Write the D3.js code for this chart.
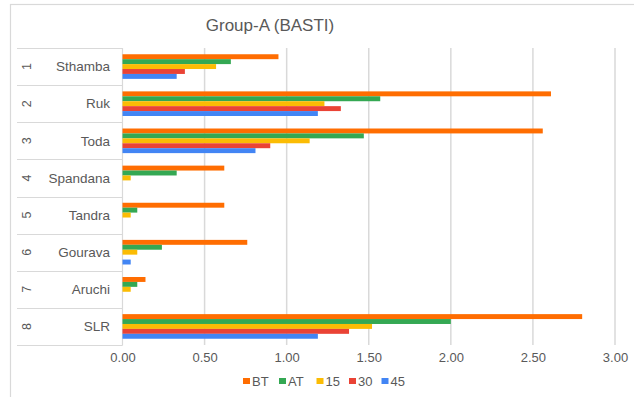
<!DOCTYPE html>
<html>
<head>
<meta charset="utf-8">
<script src="https://cdn.jsdelivr.net/npm/d3@7"></script>
<style>
  html, body { margin: 0; padding: 0; background: #fff; }
  svg { display: block; font-family: "Liberation Sans", Arial, sans-serif; }
</style>
</head>
<body>
<svg id="chart" width="634" height="397"></svg>
<script>
// Plant groups and their index numbers on the category axis
const categories = ["Sthamba", "Ruk", "Toda", "Spandana", "Tandra", "Gourava", "Aruchi", "SLR"];
const categoryNumbers = ["1", "2", "3", "4", "5", "6", "7", "8"];

// Series (measurement stages)
const seriesNames = ["BT", "AT", "15", "30", "45"];
const seriesColors = ["#ff6d01", "#34a853", "#fbbc04", "#ea4335", "#4285f4"];

// Values per series, one per category
const btValues = [0.95, 2.61, 2.56, 0.62, 0.62, 0.76, 0.14, 2.80];
const atValues = [0.66, 1.57, 1.47, 0.33, 0.09, 0.24, 0.09, 2.00];
const v15Values = [0.57, 1.23, 1.14, 0.05, 0.05, 0.09, 0.05, 1.52];
const v30Values = [0.38, 1.33, 0.90, 0, 0, 0, 0, 1.38];
const v45Values = [0.33, 1.19, 0.81, 0, 0, 0.05, 0, 1.19];

const xTicks = [0, 0.5, 1.0, 1.5, 2.0, 2.5, 3.0];
const chartTitle = "Group-A (BASTI)";

const seriesValues = [btValues, atValues, v15Values, v30Values, v45Values];

const svg = d3.select("#chart");
const W = 634, H = 397;
const plot = { left: 122.5, right: 615, top: 48, bottom: 345 };
const textColor = "#595959";
const lineColor = "#d9d9d9";

// Outer chart frame
svg.append("rect")
  .attr("x", 10.5).attr("y", 4.5)
  .attr("width", 700).attr("height", 420)
  .attr("fill", "none").attr("stroke", lineColor).attr("stroke-width", 1.2);

// Title
svg.append("text")
  .attr("x", 270).attr("y", 31)
  .attr("text-anchor", "middle")
  .attr("font-size", 17)
  .attr("fill", textColor)
  .text(chartTitle);

const x = d3.scaleLinear().domain([0, 3]).range([plot.left, plot.right]);
const y = d3.scaleBand().domain(categories).range([plot.top, plot.bottom]).padding(0);
const ySeries = d3.scaleBand().domain(seriesNames).range([0, y.bandwidth()])
  .paddingInner(0).paddingOuter(1.27);

// Vertical gridlines
svg.append("g")
  .selectAll("line")
  .data(xTicks.filter(t => t > 0))
  .join("line")
  .attr("x1", d => x(d)).attr("x2", d => x(d))
  .attr("y1", plot.top).attr("y2", plot.bottom)
  .attr("stroke", lineColor).attr("stroke-width", 1.5);

// Category axis: band separators extending left across both label levels
const bounds = categories.map(c => y(c)).concat([plot.bottom]);
svg.append("g")
  .selectAll("line")
  .data(bounds)
  .join("line")
  .attr("x1", 17).attr("x2", plot.left)
  .attr("y1", d => Math.round(d) + 0.5).attr("y2", d => Math.round(d) + 0.5)
  .attr("stroke", lineColor).attr("stroke-width", 1.2);

svg.append("line")
  .attr("x1", plot.left).attr("x2", plot.left)
  .attr("y1", plot.top).attr("y2", plot.bottom + 0.5)
  .attr("stroke", lineColor).attr("stroke-width", 1.2);

// Category names
svg.append("g")
  .selectAll("text")
  .data(categories)
  .join("text")
  .attr("x", 110)
  .attr("y", d => y(d) + y.bandwidth() / 2)
  .attr("dy", "0.35em")
  .attr("text-anchor", "end")
  .attr("font-size", 13.5)
  .attr("fill", textColor)
  .text(d => d);

// Outer level: rotated index numbers
svg.append("g")
  .selectAll("text")
  .data(categories)
  .join("text")
  .attr("transform", (d, i) => `translate(27,${y(d) + y.bandwidth() / 2}) rotate(-90)`)
  .attr("dy", "0.35em")
  .attr("text-anchor", "middle")
  .attr("font-size", 12.5)
  .attr("fill", textColor)
  .text((d, i) => categoryNumbers[i]);

// Bars
const rows = [];
categories.forEach((c, ci) => {
  seriesNames.forEach((s, si) => {
    rows.push({ cat: c, series: s, value: seriesValues[si][ci], color: seriesColors[si] });
  });
});
svg.append("g")
  .selectAll("rect")
  .data(rows.filter(r => r.value > 0))
  .join("rect")
  .attr("x", x(0))
  .attr("y", d => y(d.cat) + ySeries(d.series))
  .attr("width", d => x(d.value) - x(0))
  .attr("height", ySeries.bandwidth())
  .attr("fill", d => d.color);

// Value axis labels
const xAxis = d3.axisBottom(x).tickValues(xTicks).tickFormat(d3.format(".2f")).tickSize(0).tickPadding(0);
const gx = svg.append("g")
  .attr("transform", `translate(0,${plot.bottom})`)
  .call(xAxis);
gx.select(".domain").remove();
gx.selectAll("text")
  .attr("y", 12)
  .attr("dy", "0.35em")
  .attr("font-size", 13)
  .attr("font-family", "Liberation Sans, Arial, sans-serif")
  .attr("fill", textColor);

// Legend
const legendX = [243, 279, 316.5, 349, 381.5];
const legend = svg.append("g")
  .selectAll("g")
  .data(seriesNames)
  .join("g")
  .attr("transform", (d, i) => `translate(${legendX[i]},381)`);
legend.append("rect")
  .attr("x", 0).attr("y", -3)
  .attr("width", 7).attr("height", 6)
  .attr("fill", (d, i) => seriesColors[i]);
legend.append("text")
  .attr("x", 9).attr("y", 0)
  .attr("dy", "0.35em")
  .attr("font-size", 13)
  .attr("fill", textColor)
  .text(d => d);
</script>
</body>
</html>
